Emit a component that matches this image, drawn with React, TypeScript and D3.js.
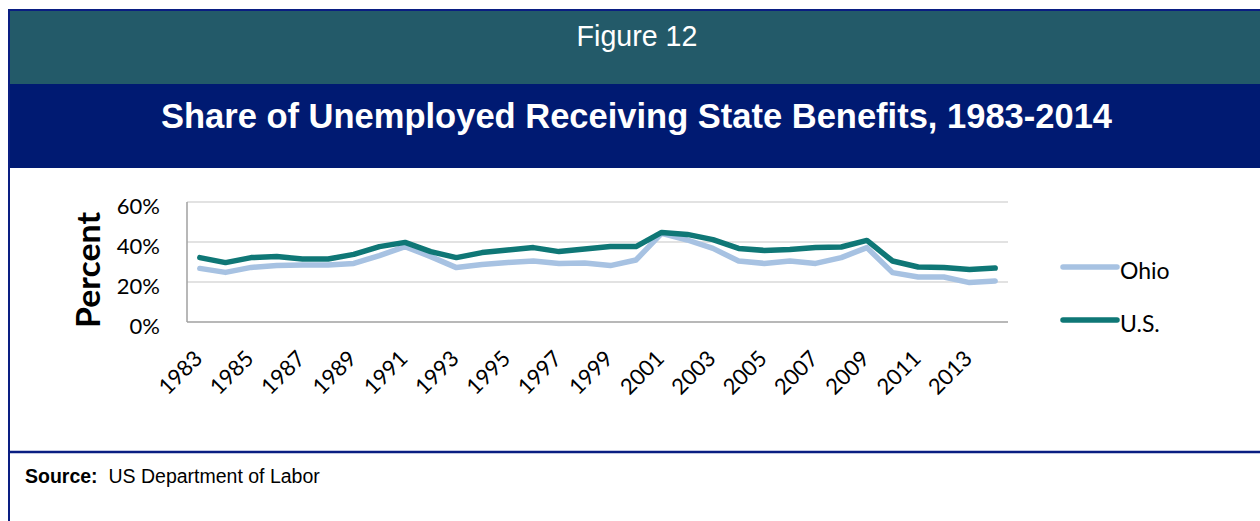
import React from "react";
import * as d3 from "d3";

const years: number[] = Array.from({ length: 32 }, (_, i) => 1983 + i);
const usValues: number[] = [
  32.2, 29.7, 32.2, 32.7, 31.5, 31.5, 33.8, 37.7, 39.8, 35.2, 32.2, 34.7, 36.0, 37.2, 35.2, 36.5,
  37.7, 37.7, 44.8, 43.8, 41.2, 36.8, 35.8, 36.2, 37.2, 37.5, 40.8, 30.5, 27.5, 27.2, 26.3, 27.0,
];
const ohioValues: number[] = [
  26.8, 24.8, 27.3, 28.2, 28.5, 28.5, 29.3, 33.2, 37.7, 32.7, 27.2, 28.8, 29.8, 30.5, 29.3, 29.5,
  28.2, 31.0, 44.3, 41.0, 36.8, 30.5, 29.3, 30.5, 29.3, 32.2, 37.2, 24.7, 22.5, 22.5, 19.7, 20.5,
];
const yTicks: number[] = [0, 20, 40, 60];
const xTickLabels: number[] = years.filter((y) => (y - 1983) % 2 === 0);
const seriesNames = ["Ohio", "U.S."];

const W = 1260;
const H = 521;
const NAVY = "#001a72";
const BORDER = "#0a1e82";
const TEAL_BAND = "#235a69";
const US_COLOR = "#0f7776";
const OHIO_COLOR = "#a7c2e2";
const CAL = "Lato, 'DejaVu Sans', sans-serif";
const ARIAL = "'Liberation Sans', Arial, sans-serif";

export default function App() {
  const x = d3.scalePoint<number>().domain(years).range([187, 1008]).padding(0.5);
  const y = d3.scaleLinear().domain([0, 60]).range([322, 202]);

  const line = d3
    .line<number>()
    .x((_, i) => x(years[i]) as number)
    .y((d) => y(d));

  return (
    <svg
      width={W}
      height={H}
      style={{ position: "absolute", left: 0, top: 0, background: "#fff" }}
    >
      {/* header bands */}
      <rect x={9} y={10} width={W - 9} height={74} fill={TEAL_BAND} />
      <rect x={9} y={84} width={W - 9} height={84} fill={NAVY} />
      <line x1={8} x2={W} y1={10} y2={10} stroke={BORDER} strokeWidth={2} />
      <line x1={9} x2={9} y1={9} y2={H} stroke={BORDER} strokeWidth={2} />
      <line x1={8} x2={W} y1={452} y2={452} stroke={BORDER} strokeWidth={2.5} />

      <text x={637} y={46} textAnchor="middle" fill="#fff" fontFamily={ARIAL} fontSize={28.6}>
        Figure 12
      </text>
      <text
        x={636.5}
        y={127.5}
        textAnchor="middle"
        fill="#fff"
        fontFamily={ARIAL}
        fontWeight="bold"
        fontSize={34.5}
      >
        Share of Unemployed Receiving State Benefits, 1983-2014
      </text>

      {/* grid */}
      {yTicks
        .filter((t) => t > 0)
        .map((t) => (
          <line key={t} x1={187} x2={1008} y1={y(t)} y2={y(t)} stroke="#d9d9d9" strokeWidth={1.5} />
        ))}
      <line x1={187} x2={1008} y1={y(0)} y2={y(0)} stroke="#a0a0a0" strokeWidth={1.5} />
      <line x1={187} x2={187} y1={y(60)} y2={y(0)} stroke="#a0a0a0" strokeWidth={1.5} />

      {/* y ticks */}
      {yTicks.map((t) => (
        <text key={t} x={160} y={y(t) + 12} textAnchor="end" fontFamily={CAL} fontSize={22} fill="#000">
          {t}%
        </text>
      ))}
      <text
        transform="translate(100,270) rotate(-90)"
        textAnchor="middle"
        fontFamily={CAL}
        fontWeight="bold"
        fontSize={32}
        textLength={116}
        lengthAdjust="spacingAndGlyphs"
        fill="#000"
      >
        Percent
      </text>

      {/* x ticks */}
      {xTickLabels.map((yr) => (
        <text
          key={yr}
          transform={`translate(${(x(yr) as number) + 4},360) rotate(-45)`}
          textAnchor="end"
          fontFamily={CAL}
          fontSize={22}
          fill="#000"
        >
          {yr}
        </text>
      ))}

      {/* series */}
      <path
        d={line(ohioValues) || ""}
        fill="none"
        stroke={OHIO_COLOR}
        strokeWidth={5.5}
        strokeLinejoin="round"
        strokeLinecap="round"
      />
      <path
        d={line(usValues) || ""}
        fill="none"
        stroke={US_COLOR}
        strokeWidth={5.5}
        strokeLinejoin="round"
        strokeLinecap="round"
      />

      {/* legend */}
      {seriesNames.map((name, i) => {
        const ly = i === 0 ? 267 : 320;
        return (
          <g key={name}>
            <line
              x1={1063}
              x2={1117}
              y1={ly}
              y2={ly}
              stroke={i === 0 ? OHIO_COLOR : US_COLOR}
              strokeWidth={5.5}
              strokeLinecap="round"
            />
            <text x={1120} y={ly + 11.5} fontFamily={CAL} fontSize={23} fill="#000">
              {name}
            </text>
          </g>
        );
      })}

      {/* source */}
      <text x={25} y={483} fontFamily={ARIAL} fontSize={19.5} fill="#000">
        <tspan fontWeight="bold">Source:</tspan>
        <tspan xmlSpace="preserve">{"  US Department of Labor"}</tspan>
      </text>
    </svg>
  );
}
